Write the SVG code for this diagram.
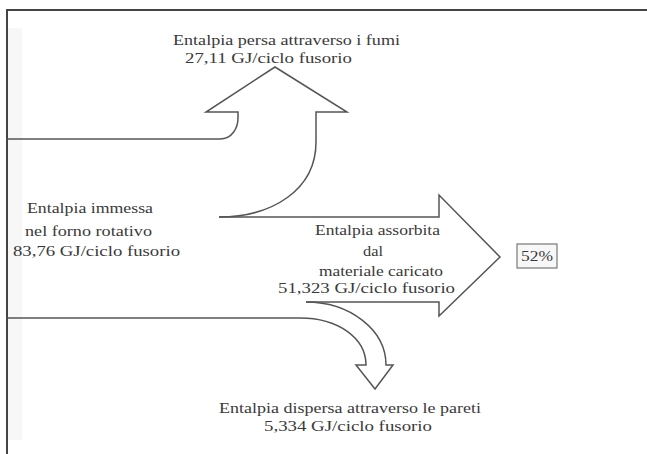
<svg xmlns="http://www.w3.org/2000/svg" width="647" height="454" viewBox="0 0 647 454">
<style>
text{font-family:'Liberation Serif','DejaVu Serif',serif;font-size:15px;fill:#3a3a3a}
.f{fill:none;stroke:#555;stroke-width:1.5;stroke-linejoin:miter}
</style>
<rect width="647" height="454" fill="#fff"/>
<rect x="8" y="28" width="14" height="412" fill="#f7f7f7"/>
<g id="frame">
<path d="M7,454 V10 H647" fill="none" stroke="#444" stroke-width="2"/>
</g>
<g id="connectors">
<path class="f" d="M7,139 H220 C232,139 238,128 238,118 V112 H206 L275,67 L347,112 H316 V142 C316,190 272,217 219,217"/>
<path class="f" d="M219,217 H439 V195 L500,257 L439,316 V302 H306"/>
<path class="f" d="M7,318 H300 C338,318 366,338 366,365 H356 L375,389 L393,365 H386 C386,330 350,302 306,302"/>
</g>
<g id="node-fumi" font-family="Liberation Serif, serif">
<text x="173" y="45" textLength="227" lengthAdjust="spacingAndGlyphs">Entalpia persa attraverso i fumi</text>
<text x="185" y="63" textLength="167" lengthAdjust="spacingAndGlyphs">27,11 GJ/ciclo fusorio</text>
</g>
<g id="node-immessa" font-family="Liberation Serif, serif">
<text x="27" y="213" textLength="126" lengthAdjust="spacingAndGlyphs">Entalpia immessa</text>
<text x="25" y="236" textLength="127" lengthAdjust="spacingAndGlyphs">nel forno rotativo</text>
<text x="13" y="256" textLength="167" lengthAdjust="spacingAndGlyphs">83,76 GJ/ciclo fusorio</text>
</g>
<g id="node-assorbita" font-family="Liberation Serif, serif">
<text x="315" y="235" textLength="125" lengthAdjust="spacingAndGlyphs">Entalpia assorbita</text>
<text x="363" y="256" textLength="20" lengthAdjust="spacingAndGlyphs">dal</text>
<text x="319" y="276" textLength="124" lengthAdjust="spacingAndGlyphs">materiale caricato</text>
<text x="278" y="293" textLength="177" lengthAdjust="spacingAndGlyphs">51,323 GJ/ciclo fusorio</text>
</g>
<g id="node-percent" font-family="Liberation Serif, serif">
<rect x="517" y="244" width="40" height="24" fill="#f7f7f7" stroke="#777" stroke-width="1.2"/>
<text x="521" y="261" textLength="32" lengthAdjust="spacingAndGlyphs">52%</text>
</g>
<g id="node-pareti" font-family="Liberation Serif, serif">
<text x="219" y="413" textLength="262" lengthAdjust="spacingAndGlyphs">Entalpia dispersa attraverso le pareti</text>
<text x="264" y="431" textLength="168" lengthAdjust="spacingAndGlyphs">5,334 GJ/ciclo fusorio</text>
</g>
</svg>
